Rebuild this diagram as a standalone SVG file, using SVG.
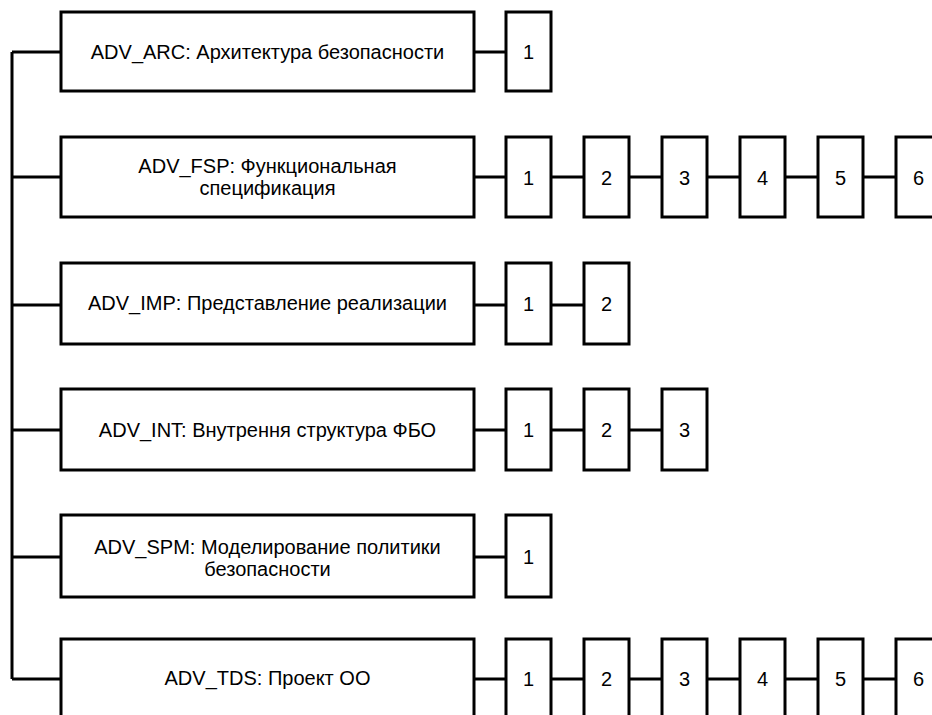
<svg xmlns="http://www.w3.org/2000/svg" width="932" height="715" viewBox="0 0 932 715">
<style>
.b{fill:#fff;stroke:#000;stroke-width:3}
.l{fill:none;stroke:#000;stroke-width:3}
.t{font-family:"Liberation Sans",Arial,sans-serif;font-size:20px;fill:#000;text-anchor:middle}
</style>
<rect width="932" height="715" fill="#fff"/>
<g id="connectors">
<path class="l" d="M12 52V679M12 52H61M12 177H61M12 305H61M12 430H61M12 557H61M12 679H61"/>
<path class="l" d="M474 52H506"/>
<path class="l" d="M474 177H506M551 177H584M629 177H662M707 177H740M785 177H818M863 177H896"/>
<path class="l" d="M474 305H506M551 305H584"/>
<path class="l" d="M474 430H506M551 430H584M629 430H662"/>
<path class="l" d="M474 557H506"/>
<path class="l" d="M474 679H506M551 679H584M629 679H662M707 679H740M785 679H818M863 679H896"/>
</g>
<g id="ADV_ARC"><rect class="b" x="61" y="12" width="413" height="79"/><text class="t" x="267.5" y="59">ADV_ARC: Архитектура безопасности</text></g>
<g id="ADV_ARC_1"><rect class="b" x="506" y="12" width="45" height="79"/><text class="t" x="528.5" y="59">1</text></g>
<g id="ADV_FSP"><rect class="b" x="61" y="137" width="413" height="80"/><text class="t" x="267.5" y="173">ADV_FSP: Функциональная</text><text class="t" x="267.5" y="195">спецификация</text></g>
<g id="ADV_FSP_1"><rect class="b" x="506" y="137" width="45" height="80"/><text class="t" x="528.5" y="185">1</text></g>
<g id="ADV_FSP_2"><rect class="b" x="584" y="137" width="45" height="80"/><text class="t" x="606.5" y="185">2</text></g>
<g id="ADV_FSP_3"><rect class="b" x="662" y="137" width="45" height="80"/><text class="t" x="684.5" y="185">3</text></g>
<g id="ADV_FSP_4"><rect class="b" x="740" y="137" width="45" height="80"/><text class="t" x="762.5" y="185">4</text></g>
<g id="ADV_FSP_5"><rect class="b" x="818" y="137" width="45" height="80"/><text class="t" x="840.5" y="185">5</text></g>
<g id="ADV_FSP_6"><rect class="b" x="896" y="137" width="45" height="80"/><text class="t" x="918.5" y="185">6</text></g>
<g id="ADV_IMP"><rect class="b" x="61" y="263" width="413" height="81"/><text class="t" x="267.5" y="310">ADV_IMP: Представление реализации</text></g>
<g id="ADV_IMP_1"><rect class="b" x="506" y="263" width="45" height="81"/><text class="t" x="528.5" y="311">1</text></g>
<g id="ADV_IMP_2"><rect class="b" x="584" y="263" width="45" height="81"/><text class="t" x="606.5" y="311">2</text></g>
<g id="ADV_INT"><rect class="b" x="61" y="389" width="413" height="81"/><text class="t" x="267.5" y="437">ADV_INT: Внутрення структура ФБО</text></g>
<g id="ADV_INT_1"><rect class="b" x="506" y="389" width="45" height="81"/><text class="t" x="528.5" y="437">1</text></g>
<g id="ADV_INT_2"><rect class="b" x="584" y="389" width="45" height="81"/><text class="t" x="606.5" y="437">2</text></g>
<g id="ADV_INT_3"><rect class="b" x="662" y="389" width="45" height="81"/><text class="t" x="684.5" y="437">3</text></g>
<g id="ADV_SPM"><rect class="b" x="61" y="515" width="413" height="82"/><text class="t" x="267.5" y="554">ADV_SPM: Моделирование политики</text><text class="t" x="267.5" y="576">безопасности</text></g>
<g id="ADV_SPM_1"><rect class="b" x="506" y="515" width="45" height="82"/><text class="t" x="528.5" y="564">1</text></g>
<g id="ADV_TDS"><rect class="b" x="61" y="639" width="413" height="82"/><text class="t" x="267.5" y="685">ADV_TDS: Проект ОО</text></g>
<g id="ADV_TDS_1"><rect class="b" x="506" y="639" width="45" height="82"/><text class="t" x="528.5" y="686">1</text></g>
<g id="ADV_TDS_2"><rect class="b" x="584" y="639" width="45" height="82"/><text class="t" x="606.5" y="686">2</text></g>
<g id="ADV_TDS_3"><rect class="b" x="662" y="639" width="45" height="82"/><text class="t" x="684.5" y="686">3</text></g>
<g id="ADV_TDS_4"><rect class="b" x="740" y="639" width="45" height="82"/><text class="t" x="762.5" y="686">4</text></g>
<g id="ADV_TDS_5"><rect class="b" x="818" y="639" width="45" height="82"/><text class="t" x="840.5" y="686">5</text></g>
<g id="ADV_TDS_6"><rect class="b" x="896" y="639" width="45" height="82"/><text class="t" x="918.5" y="686">6</text></g>
</svg>
